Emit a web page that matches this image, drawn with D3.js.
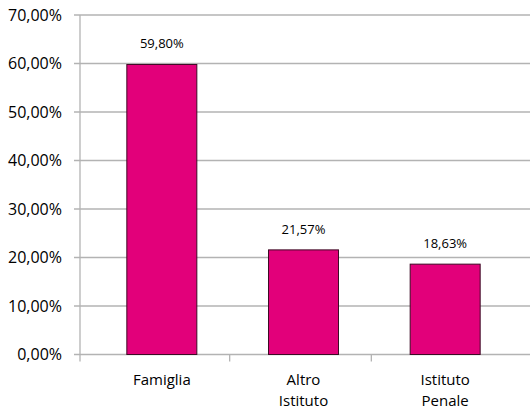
<!DOCTYPE html>
<html><head><meta charset="utf-8">
<script src="https://cdn.jsdelivr.net/npm/d3@7"></script>
<style>body{margin:0;background:#fff}svg{display:block;font-family:"Open Sans",sans-serif}</style>
</head><body><svg id="c" width="530" height="409"></svg>
<script>
const categories = [["Famiglia"], ["Altro", "Istituto"], ["Istituto", "Penale"]];
const values = [59.80, 21.57, 18.63];
const valueLabels = ["59,80%", "21,57%", "18,63%"];
const yTicks = [0, 10, 20, 30, 40, 50, 60, 70];

const svg = d3.select("#c");
const x0 = 80, x1 = 530, yTop = 15, yBot = 354.5;
const keys = categories.map((c,i)=>i);
const x = d3.scaleBand().domain(keys).range([91, 516]).paddingInner(0).paddingOuter(0);
const y = d3.scaleLinear().domain([0,70]).range([yBot, yTop]);
const fmt = v => v.toFixed(2).replace(".", ",") + "%";

// gridlines
svg.append("g").selectAll("line").data(yTicks).join("line")
  .attr("x1", x0-6).attr("x2", x1).attr("y1", d=>y(d)).attr("y2", d=>y(d))
  .attr("stroke", "#b3b3b3").attr("stroke-width", 1.3);
// y axis line
svg.append("line").attr("x1", x0).attr("x2", x0).attr("y1", yTop).attr("y2", yBot+7)
  .attr("stroke", "#b3b3b3").attr("stroke-width", 1.3);
// y labels
svg.append("g").selectAll("text").data(yTicks).join("text")
  .attr("x", x0-18).attr("y", d=>y(d)).attr("dy", "0.35em").attr("text-anchor", "end")
  .attr("font-size", 16).attr("fill", "#000").text(fmt);
// category ticks
svg.append("g").selectAll("line").data(keys.slice(1)).join("line")
  .attr("x1", d=>x(d)-3).attr("x2", d=>x(d)-3).attr("y1", yBot).attr("y2", yBot+7)
  .attr("stroke", "#b3b3b3").attr("stroke-width", 1.3);
// bars
const bw = 70;
svg.append("g").selectAll("rect").data(values).join("rect")
  .attr("x", (d,i)=>x(i)+x.bandwidth()/2-bw/2).attr("width", bw)
  .attr("y", d=>y(d)).attr("height", d=>yBot-y(d))
  .attr("fill", "#e2007a").attr("stroke", "#3d0a24").attr("stroke-width", 1);
// value labels
svg.append("g").selectAll("text").data(values).join("text")
  .attr("x", (d,i)=>x(i)+x.bandwidth()/2).attr("y", d=>y(d)-16)
  .attr("text-anchor", "middle").attr("font-size", 13).attr("fill", "#000")
  .text((d,i)=>valueLabels[i]);
// category labels (one text per line)
const lines = [];
categories.forEach((c,i)=>c.forEach((t,j)=>lines.push({i, j, t})));
svg.append("g").selectAll("text").data(lines).join("text")
  .attr("x", d=>x(d.i)+x.bandwidth()/2).attr("y", d=>385 + d.j*20.6)
  .attr("text-anchor", "middle").attr("font-size", 15).attr("fill", "#000")
  .text(d=>d.t);
</script></body></html>
